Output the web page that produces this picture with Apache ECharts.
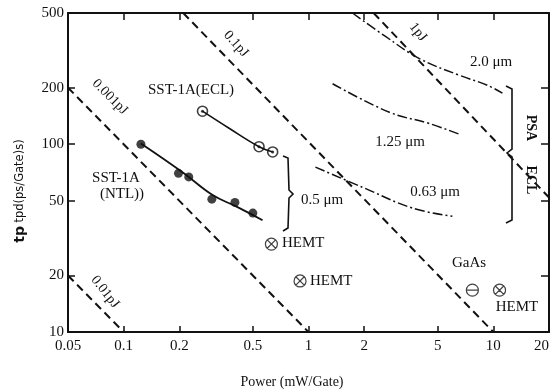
<!DOCTYPE html>
<html>
<head>
<meta charset="utf-8">
<script src="https://cdn.jsdelivr.net/npm/echarts@6/dist/echarts.min.js"></script>
<style>
  html, body { margin: 0; padding: 0; background: #fff; }
  #chart { width: 554px; height: 392px; }
</style>
</head>
<body>
<div id="chart"></div>
<script>
// axis ticks
const xTicks = [0.05, 0.1, 0.2, 0.5, 1, 2, 5, 10, 20];
const yTicks = [10, 20, 50, 100, 200, 500];

// constant energy lines (dashed)
const line0_01pJ = [[0.05, 20], [0.1, 10]];
const line0_001pJ = [[0.05, 200], [1, 10]];
const line0_1pJ = [[0.21, 500], [10, 10]];
const line1pJ = [[2.25, 500], [20, 52]];

// feature size curves (dash-dot)
const um20 = [[1.73, 500], [2.61, 375], [3.98, 286], [6.55, 233], [9.3, 206], [11.2, 187]];
const um125 = [[1.35, 210], [2.74, 148], [4.5, 129], [6.55, 113]];
const um063 = [[1.09, 75.5], [1.96, 59], [3.65, 45.7], [6.0, 41.4]];

// SST-1A measured points and fit curves
const ntlPoints = [[0.124, 100], [0.198, 70], [0.225, 67], [0.30, 51], [0.40, 49], [0.50, 43]];
const ntlCurve = [[0.124, 101], [0.208, 71], [0.303, 53.6], [0.403, 46.8], [0.564, 39.4]];
const eclPoints = [[0.267, 150], [0.54, 97], [0.64, 91]];
const eclCurve = [[0.267, 150], [0.37, 122], [0.54, 97], [0.64, 91]];

// other devices
const hemtPoints = [[0.63, 29.4], [0.9, 18.7], [10.8, 16.7]];
const gaasPoints = [[7.7, 16.7]];

const serif = 'Liberation Serif, DejaVu Serif, serif';
const ink = '#111';

const crossCircle = 'path://M0,10A10,10 0 1,1 20,10A10,10 0 1,1 0,10ZM3,3L17,17M17,3L3,17';
const minusCircle = 'path://M0,10A10,10 0 1,1 20,10A10,10 0 1,1 0,10ZM0,10L20,10';

const chart = echarts.init(document.getElementById('chart'));

const dashed = (data) => ({
  type: 'line', data, symbol: 'none', silent: true,
  lineStyle: { color: ink, width: 2, type: [8, 5] }
});
const dashDot = (data) => ({
  type: 'line', data, symbol: 'none', smooth: 0.4, silent: true,
  lineStyle: { color: ink, width: 1.5, type: [10, 3, 2, 3] }
});

const fmt = (v) => String(Number(Number(v).toPrecision(3)));

const txt = (text, x, y, extra) => Object.assign({
  type: 'text', x, y, silent: true,
  style: Object.assign({
    text, fill: ink, fontFamily: serif, fontSize: 15,
    align: 'center', verticalAlign: 'middle'
  }, (extra && extra.style) || {})
}, extra ? { rotation: extra.rotation || 0 } : {});

const option = {
  animation: false,
  backgroundColor: '#fff',
  grid: { left: 68, right: 5, top: 13, bottom: 60, outerBoundsMode: 'none' },
  xAxis: [
    {
      type: 'log', min: 0.05, max: 20,
      axisLine: { lineStyle: { color: ink, width: 2 } },
      axisTick: { inside: true, length: 6, customValues: xTicks, lineStyle: { color: ink, width: 1.5 } },
      axisLabel: {
        customValues: xTicks, formatter: fmt, color: ink, fontFamily: serif,
        fontSize: 15, margin: 7, alignMaxLabel: 'right', alignMinLabel: 'center'
      },
      splitLine: { show: false }, minorTick: { show: false }
    },
    {
      type: 'log', min: 0.05, max: 20, position: 'top',
      axisLine: { lineStyle: { color: ink, width: 2 } },
      axisTick: { inside: true, length: 7, customValues: xTicks, lineStyle: { color: ink, width: 1.5 } },
      axisLabel: { show: false },
      splitLine: { show: false }
    }
  ],
  yAxis: [
    {
      type: 'log', min: 10, max: 500,
      axisLine: { lineStyle: { color: ink, width: 2 } },
      axisTick: { inside: true, length: 7, customValues: yTicks, lineStyle: { color: ink, width: 1.5 } },
      axisLabel: { customValues: yTicks, formatter: fmt, color: ink, fontFamily: serif, fontSize: 15, margin: 4 },
      splitLine: { show: false }
    },
    {
      type: 'log', min: 10, max: 500, position: 'right',
      axisLine: { lineStyle: { color: ink, width: 2 } },
      axisTick: { inside: true, length: 8, customValues: yTicks, lineStyle: { color: ink, width: 1.5 } },
      axisLabel: { show: false },
      splitLine: { show: false }
    }
  ],
  series: [
    dashed(line0_01pJ),
    dashed(line0_001pJ),
    dashed(line0_1pJ),
    dashed(line1pJ),
    dashDot(um20),
    dashDot(um125),
    dashDot(um063),
    {
      type: 'line', data: ntlCurve, smooth: 0.4, symbol: 'none', silent: true,
      lineStyle: { color: ink, width: 1.8 }
    },
    {
      type: 'scatter', data: ntlPoints, symbol: 'circle', symbolSize: 9, silent: true,
      itemStyle: { color: ink }
    },
    {
      type: 'line', data: eclCurve, smooth: 0.4, symbol: 'none', silent: true,
      lineStyle: { color: ink, width: 1.6 }
    },
    {
      type: 'scatter', data: eclPoints, symbol: 'circle', symbolSize: 10, silent: true,
      itemStyle: { color: '#fff', borderColor: ink, borderWidth: 1.6 }
    },
    {
      type: 'scatter', data: eclPoints, symbol: 'circle', symbolSize: 3, silent: true,
      itemStyle: { color: ink }
    },
    {
      type: 'scatter', data: hemtPoints, symbol: crossCircle, symbolSize: 12, silent: true,
      itemStyle: { color: 'rgba(0,0,0,0)', borderColor: ink, borderWidth: 1.2 }
    },
    {
      type: 'scatter', data: gaasPoints, symbol: minusCircle, symbolSize: 12, silent: true,
      itemStyle: { color: 'rgba(0,0,0,0)', borderColor: ink, borderWidth: 1.2 }
    }
  ],
  graphic: [
    // axis titles
    {
      type: 'text', x: 20, y: 191, rotation: Math.PI / 2, silent: true,
      style: {
        text: '{b|tp} {s|tpd(ps/Gate)s)}', align: 'center', verticalAlign: 'middle',
        rich: {
          b: { fontFamily: 'DejaVu Sans, sans-serif', fontWeight: 'bold', fontSize: 14, fill: ink },
          s: { fontFamily: 'DejaVu Sans, sans-serif', fontSize: 11.5, fill: ink }
        }
      }
    },
    txt('Power (mW/Gate)', 292, 382, { style: { fontSize: 14 } }),
    // energy labels
    txt('0.001pJ', 110, 97, { rotation: -Math.PI / 4, style: { fontSize: 14 } }),
    txt('0.01pJ', 105, 292, { rotation: -0.9, style: { fontSize: 14 } }),
    txt('0.1pJ', 236, 44, { rotation: -0.85, style: { fontSize: 14 } }),
    txt('1pJ', 418, 32, { rotation: -0.9, style: { fontSize: 14 } }),
    // device labels
    txt('SST-1A(ECL)', 191, 90),
    txt('SST-1A', 116, 178),
    txt('(NTL))', 122, 194),
    txt('2.0 \u03bcm', 491, 62),
    txt('1.25 \u03bcm', 400, 142),
    txt('0.63 \u03bcm', 435, 192),
    txt('0.5 \u03bcm', 322, 200),
    txt('HEMT', 282, 243, { style: { align: 'left' } }),
    txt('HEMT', 310, 281, { style: { align: 'left' } }),
    txt('GaAs', 469, 263),
    txt('HEMT', 517, 307),
    txt('PSA', 531, 128, { rotation: -Math.PI / 2, style: { fontWeight: 'bold', fontSize: 14 } }),
    txt('ECL', 531, 180, { rotation: -Math.PI / 2, style: { fontWeight: 'bold', fontSize: 14 } }),
    // brackets
    {
      type: 'polyline', silent: true,
      shape: { points: [[283, 156], [288, 158], [289, 190], [293, 194], [289, 198], [288, 228], [283, 231]] },
      style: { stroke: ink, lineWidth: 1.6, fill: null }
    },
    {
      type: 'polyline', silent: true,
      shape: { points: [[506, 86], [512, 89], [512, 149], [507, 153], [512, 157], [512, 220], [506, 223]] },
      style: { stroke: ink, lineWidth: 1.6, fill: null }
    }
  ]
};

chart.setOption(option);
</script>
</body>
</html>
